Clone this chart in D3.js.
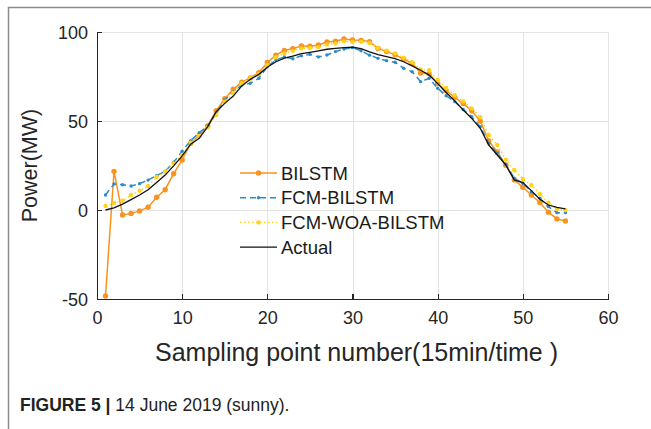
<!DOCTYPE html>
<html>

<head>
  <meta charset="utf-8">
  <title>Power forecast</title>
  <script src="https://cdn.jsdelivr.net/npm/d3@7/dist/d3.min.js"></script>
</head>
<style type="text/css">
  body {
    margin: 0;
    background-color: #ffffff;
  }

  .grid line {
    stroke: #e3e3e3;
    stroke-width: 1;
    shape-rendering: crispEdges;
  }

  .grid path {
    display: none;
  }

  .axis path,
  .axis line {
    stroke: #262626;
    stroke-width: 1.2;
    shape-rendering: crispEdges;
  }

  .axis text {
    font-size: 18px;
    font-family: "Liberation Sans", Arial, sans-serif;
    fill: #262626;
  }
</style>

<body>
  <svg width="651" height="429" id="mainsvg"></svg>
  <script>
    // sampling points 1..55
    const samples = d3.range(1, 56);
    const actual = [0, 1.2, 3.3, 5.8, 8.4, 11.4, 15.4, 19.6, 24.8, 30.4,
      37, 40.3, 46.8, 55.2, 59.9, 64, 69.7, 73.4, 76.2, 80.2,
      83.3, 85.3, 86.5, 87.8, 88.6, 89.4, 90.3, 90.8, 91.2, 91.5,
      90.6, 88.8, 87.3, 86.2, 85, 83.3, 81, 78.5, 75.8, 71,
      66, 61.3, 56.2, 51.5, 45.9, 36.5, 30.9, 25.3, 16.9, 15.4,
      10.9, 6, 2.8, 1.5, 0.6];
    const bilstm = [-48.3, 21.7, -2.8, -1.9, -0.5, 1.6, 7.2, 11.4, 20.4, 28.1,
      37.5, 42, 47.2, 55.8, 62.5, 67.8, 71.8, 74.2, 77.2, 82.9,
      87, 89.7, 90.6, 92.2, 92, 92.7, 94.4, 94.8, 96.1, 95.5,
      95.3, 94.6, 90.8, 89, 87.3, 84.7, 82.4, 77, 76.5, 71.2,
      67, 63.3, 59.8, 55.8, 50, 38.8, 32.6, 25.2, 16.9, 12.8,
      8.4, 4.2, -1.2, -5, -6.2];
    const fcmBilstm = [8.4, 14.6, 14.2, 13.5, 14.8, 16.8, 19.3, 21.8, 26.8, 33,
      39, 43.4, 47.2, 54.3, 61.8, 66.5, 70.2, 71.2, 74, 80.5,
      84.3, 86, 85, 86.6, 87.5, 86, 87.1, 89, 90.4, 91.2,
      89.5, 87, 85.2, 83.9, 83, 79.6, 77.7, 72.1, 74, 68.4,
      64.2, 60.9, 56.5, 52.4, 46.8, 37.5, 31.8, 25.8, 17.8, 15,
      10.3, 6.6, 1.9, -1.5, -1.5];
    const fcmWoaBilstm = [2.3, 4, 5.2, 8.4, 10.8, 13.5, 18.5, 21.5, 26.2, 30.9,
      37.8, 41.6, 46.4, 53.4, 60.9, 65.9, 71.2, 74, 76.4, 81.5,
      85.8, 88, 89.4, 90.8, 91, 91.5, 93, 93.6, 94.8, 94.4,
      94.5, 93.8, 91, 89.5, 88, 85.5, 83, 79, 78.5, 73,
      68.5, 64.5, 61, 57.1, 52.1, 42.1, 36.5, 28.3, 22.3, 17.4,
      14, 9, 4.1, 0.5, 0];
    const xTicks = [0, 10, 20, 30, 40, 50, 60];
    const yTicks = [-50, 0, 50, 100];

    const series = [
      { name: "BILSTM", values: bilstm, color: "#f7931e", dash: null, width: 1.5, r: 2.7 },
      { name: "FCM-BILSTM", values: fcmBilstm, color: "#2f8acb", dash: "6,4", width: 1.5, r: 1.7 },
      { name: "FCM-WOA-BILSTM", values: fcmWoaBilstm, color: "#ffd21c", dash: "1.5,2.5", width: 1.4, r: 2.2 },
      { name: "Actual", values: actual, color: "#111111", dash: null, width: 1.3, r: 0 }
    ];

    const svg = d3.select('#mainsvg');
    const margin = { top: 32, right: 43, bottom: 130, left: 97 };
    const innerWidth = 608 - margin.left;
    const innerHeight = 299 - margin.top;

    // page frame
    svg.append("path")
      .attr("d", "M8.5,429 L8.5,7.5 L651,7.5")
      .attr("fill", "none")
      .attr("stroke", "#8c8c8c")
      .attr("stroke-width", 1.5);

    const xScale = d3.scaleLinear().domain([0, 60]).range([0, innerWidth]);
    const yScale = d3.scaleLinear().domain([-50, 100]).range([innerHeight, 0]);

    const g = svg.append('g')
      .attr('transform', `translate(${margin.left}, ${margin.top})`);

    // grid
    g.append('g').attr('class', 'grid')
      .call(d3.axisBottom(xScale).tickValues(xTicks).tickSize(innerHeight).tickFormat(''));
    g.append('g').attr('class', 'grid')
      .call(d3.axisLeft(yScale).tickValues(yTicks).tickSize(-innerWidth).tickFormat(''));

    // axes, ticks pointing inward
    const fmt = d => String(d);
    const xAxis = g.append('g').attr('class', 'axis')
      .attr('transform', `translate(0, ${innerHeight})`)
      .call(d3.axisBottom(xScale).tickValues(xTicks).tickFormat(fmt).tickSizeInner(-5).tickSizeOuter(0).tickPadding(12));
    const yAxis = g.append('g').attr('class', 'axis')
      .call(d3.axisLeft(yScale).tickValues(yTicks).tickFormat(fmt).tickSizeInner(-5).tickSizeOuter(0).tickPadding(9));
    yAxis.selectAll('text').attr('dy', '0.36em');
    xAxis.selectAll('text').attr('dy', '0.72em');

    const line = d3.line()
      .x((d, i) => xScale(samples[i]))
      .y(d => yScale(d));

    series.forEach(s => {
      const sg = g.append('g');
      sg.append('path')
        .attr('d', line(s.values))
        .attr('fill', 'none')
        .attr('stroke', s.color)
        .attr('stroke-width', s.width)
        .attr('stroke-dasharray', s.dash);
      if (s.r > 0) {
        sg.selectAll('circle')
          .data(s.values)
          .enter()
          .append('circle')
          .attr('cx', (d, i) => xScale(samples[i]))
          .attr('cy', d => yScale(d))
          .attr('r', s.r)
          .attr('fill', s.color);
      }
    });

    // legend
    const legend = svg.append('g').attr('transform', 'translate(240, 173)');
    series.forEach((s, i) => {
      const row = legend.append('g').attr('transform', `translate(0, ${i * 24.7})`);
      row.append('line')
        .attr('x1', 0).attr('x2', 37)
        .attr('stroke', s.color)
        .attr('stroke-width', s.width)
        .attr('stroke-dasharray', s.dash);
      if (s.r > 0) {
        row.append('circle').attr('cx', 18.5).attr('r', s.r).attr('fill', s.color);
      }
      row.append('text')
        .attr('x', 41)
        .attr('dy', '0.36em')
        .style('font-family', '"Liberation Sans", Arial, sans-serif')
        .style('font-size', '18.5px')
        .attr('fill', '#1a1a1a')
        .text(s.name);
    });

    // axis titles
    svg.append('text')
      .attr('x', margin.left + innerWidth / 2 + 4)
      .attr('y', 361)
      .attr('text-anchor', 'middle')
      .style('font-family', '"Liberation Sans", Arial, sans-serif')
      .style('font-size', '25px')
      .attr('fill', '#262626')
      .text('Sampling point number(15min/time )');
    svg.append('text')
      .attr('transform', `translate(37, ${margin.top + yScale(25)}) rotate(-90)`)
      .attr('text-anchor', 'middle')
      .style('font-family', '"Liberation Sans", Arial, sans-serif')
      .style('font-size', '21.5px')
      .attr('fill', '#262626')
      .text('Power(MW)');

    // caption
    const cap = svg.append('text')
      .attr('x', 20)
      .attr('y', 411)
      .style('font-family', '"Liberation Sans Narrow", "Liberation Sans", sans-serif')
      .style('font-size', '17.5px')
      .attr('fill', '#222');
    cap.append('tspan').style('font-weight', 'bold').text('FIGURE 5 | ');
    cap.append('tspan').text('14 June 2019 (sunny).');
  </script>
</body>

</html>
